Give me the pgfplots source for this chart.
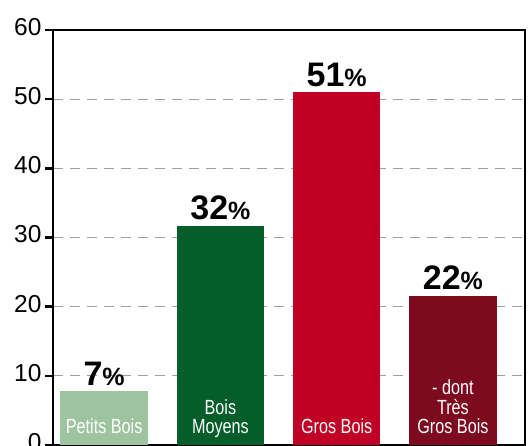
\documentclass[border=0pt]{standalone}
\usepackage{fontspec}
\setmainfont{Liberation Sans}
\newfontfamily\condfont{Liberation Sans}[FakeStretch=0.79]
\usepackage{pgfplots}
\pgfplotsset{compat=1.18}
\definecolor{cPB}{HTML}{9DC49F}
\definecolor{cBM}{HTML}{055E2A}
\definecolor{cGB}{HTML}{C10025}
\definecolor{cTGB}{HTML}{7D0A1E}
\protected\def\labA{Petits Bois}
\protected\def\labB{Bois\\Moyens}
\protected\def\labC{Gros Bois}
\protected\def\labD{- dont\\Très\\Gros Bois}
\begin{document}
\begin{tikzpicture}
\begin{axis}[
  name=ax,
  scale only axis,
  width=472pt, height=415pt,
  xmin=-0.44, xmax=3.62,
  ymin=0, ymax=60,
  ytick={0,10,...,60},
  ytick pos=left,
  xtick=\empty,
  axis line style={line width=2.5pt, black},
  tick align=outside,
  major tick length=8pt,
  ytick style={line width=2.5pt, black},
  ymajorgrids,
  grid style={color=black!38, dash pattern=on 10pt off 7pt, line width=1.2pt},
  /pgf/number format/assume math mode=true,
  yticklabel style={font=\fontsize{24.5}{27}\selectfont, yshift=3pt},
  point meta=explicit symbolic,
  nodes near coords={\fontsize{34}{34}\selectfont\bfseries\pgfplotspointmeta{\fontsize{25}{25}\selectfont\%}},
  every node near coord/.append style={anchor=base, yshift=6pt, inner sep=0pt, text=black},
]
\addplot[ybar, bar width=87.5pt, fill=cPB, draw=none] coordinates {(0,7.8) [7]};
\addplot[ybar, bar width=87.5pt, fill=cBM, draw=none] coordinates {(1,31.7) [32]};
\addplot[ybar, bar width=87.5pt, fill=cGB, draw=none] coordinates {(2,51.0) [51]};
\addplot[ybar, bar width=87.5pt, fill=cTGB, draw=none] coordinates {(3,21.6) [22]};
\addplot[draw=none, mark=none,
  nodes near coords={\pgfplotspointmeta},
  every node near coord/.style={font=\condfont\fontsize{20.5}{19.5}\selectfont, text=white, align=center, anchor=south, text depth=0pt, inner sep=0pt, yshift=11pt}]
  coordinates {(0,0) [\labA] (1,0) [\labB] (2,0) [\labC] (3,0) [\labD]};
\end{axis}
\pgfresetboundingbox
\path[use as bounding box] ([shift={(-53pt,-1pt)}]ax.south west) rectangle ([shift={(4pt,30pt)}]ax.north east);
\end{tikzpicture}
\end{document}
